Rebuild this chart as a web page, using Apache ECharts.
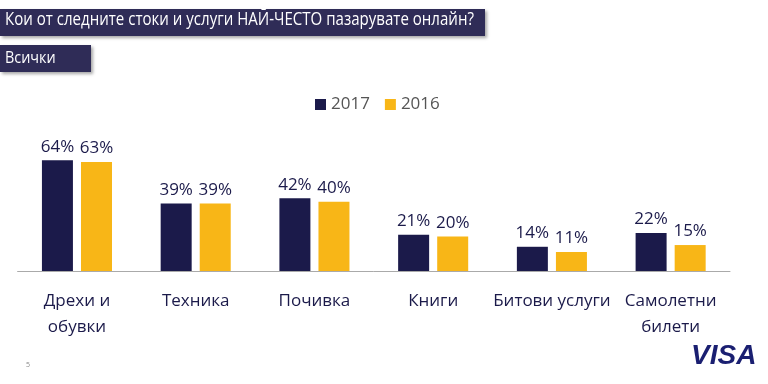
<!DOCTYPE html>
<html><head><meta charset="utf-8">
<script src="https://cdn.jsdelivr.net/npm/echarts@6/dist/echarts.min.js"></script>
<style>html,body{margin:0;padding:0;background:#fff}#c{width:768px;height:384px}</style>
</head><body><div id="c"></div>
<script>
const categories = ['Дрехи и\nобувки', 'Техника', 'Почивка', 'Книги', 'Битови услуги', 'Самолетни\nбилети'];
const values2017 = [64, 39, 42, 21, 14, 22];
const values2016 = [63, 39, 40, 20, 11, 15];
const seriesNames = ['2017', '2016'];
const titleText = 'Кои от следните стоки и услуги НАЙ-ЧЕСТО пазарувате онлайн?';
const subtitleText = 'Всички';

const FONT = '"Open Sans", "Noto Sans", sans-serif';
const NAVY = '#1b1a4a';
const YELLOW = '#f8b617';
const chart = echarts.init(document.getElementById('c'), null, {renderer: 'canvas'});
const labelCfg = {show: true, position: 'top', distance: 5, formatter: '{c}%', color: NAVY, fontSize: 17, fontFamily: FONT};
chart.setOption({
  animation: false,
  backgroundColor: '#fff',
  graphic: [
    {type: 'rect', shape: {x: 0, y: 9, width: 485, height: 27}, style: {fill: '#2f2c57', shadowBlur: 3, shadowOffsetX: 2, shadowOffsetY: 2, shadowColor: 'rgba(0,0,0,0.35)'}},
    {type: 'text', x: 5, y: 11, scaleX: 0.86, style: {text: titleText, fill: '#fff', fontSize: 17.5, fontFamily: FONT}},
    {type: 'rect', shape: {x: 0, y: 45, width: 91, height: 27}, style: {fill: '#2f2c57', shadowBlur: 3, shadowOffsetX: 2, shadowOffsetY: 2, shadowColor: 'rgba(0,0,0,0.35)'}},
    {type: 'text', x: 5, y: 50, scaleX: 0.9, style: {text: subtitleText, fill: '#fff', fontSize: 16, fontFamily: FONT}},
    {type: 'text', left: 26, top: 361, style: {text: '5', fill: '#888', fontSize: 7, fontFamily: FONT}},
    {type: 'text', left: 691, top: 342, style: {text: 'VISA', fill: '#1a1f71', fontSize: 28, fontWeight: 'bold', fontStyle: 'italic', fontFamily: '"Liberation Sans", Arial, sans-serif'}}
  ],
  legend: {
    data: seriesNames, top: 91, left: 310, itemWidth: 11, itemHeight: 11, itemGap: 15,
    icon: 'rect',
    textStyle: {color: '#555', fontSize: 17, fontFamily: FONT}
  },
  grid: {left: 17.6, right: 38, top: 98, bottom: 113},
  xAxis: {
    type: 'category', data: categories,
    axisLine: {lineStyle: {color: '#aaa', width: 1}},
    axisTick: {show: false},
    axisLabel: {color: NAVY, fontSize: 17, fontFamily: FONT, margin: 17, lineHeight: 26, interval: 0}
  },
  yAxis: {type: 'value', min: 0, max: 100, show: false, splitLine: {show: false}},
  series: [
    {name: seriesNames[0], type: 'bar', data: values2017, barWidth: 31, barGap: '26%', itemStyle: {color: NAVY}, label: labelCfg},
    {name: seriesNames[1], type: 'bar', data: values2016, barWidth: 31, itemStyle: {color: YELLOW}, label: labelCfg}
  ]
});
</script></body></html>
